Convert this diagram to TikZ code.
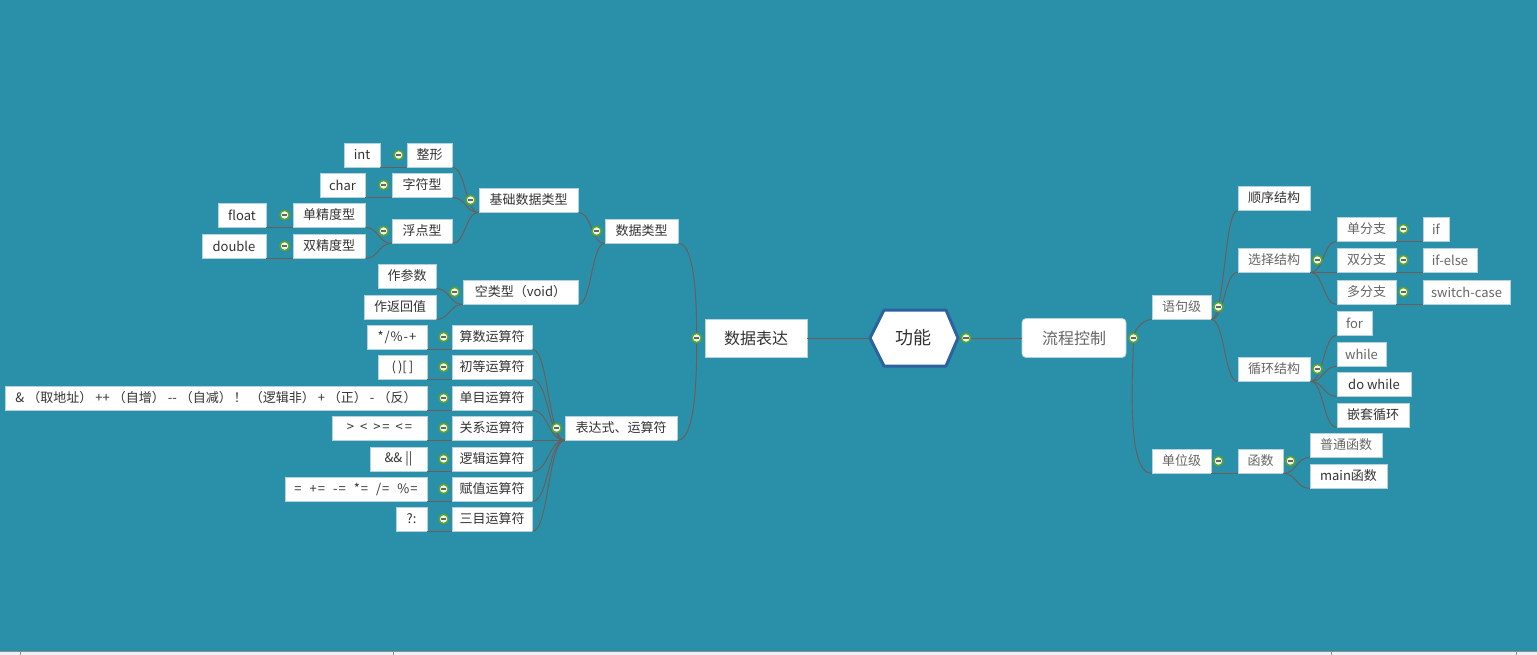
\documentclass[tikz,border=0pt]{standalone}
\usepackage{fontspec}
\setmainfont{Noto Sans CJK SC}
\usetikzlibrary{shadows,calc}
\definecolor{bg}{HTML}{2A8FA8}
\definecolor{lnc}{HTML}{6F5B58}
\definecolor{boxb}{HTML}{B5D3DE}
\definecolor{txt}{HTML}{333333}
\definecolor{ltxt}{HTML}{666666}
\definecolor{hexb}{HTML}{2C62A0}
\definecolor{togg}{HTML}{5BA52A}
\definecolor{togf}{HTML}{F2F4EA}
\newcommand\gp[1]{\hspace{#1pt}}
\tikzset{
 nb/.style={draw=boxb, fill=white, line width=0.8pt, inner sep=0pt, minimum height=24pt,
   font=\fontsize{13}{15}\selectfont, text=txt},
 box/.style={nb, drop shadow={shadow xshift=1.2pt, shadow yshift=-1.2pt, opacity=0.25}},
 lt/.style={text=ltxt},
 big/.style={minimum height=38pt, font=\fontsize{16}{19}\selectfont},
 conn/.style={draw=lnc, line width=0.9pt},
 scurve/.style={to path={let \p1=(\tikztostart), \p2=(\tikztotarget),
   \p3=($(\tikztostart)!0.5!(\tikztotarget)$) in
   .. controls (\x3,\y1) and (\x3,\y2) .. (\tikztotarget)}},
 tog/.pic={\draw[draw=togg, fill=togf, line width=1.5pt] (0,0) circle (4.6pt);
   \draw[black!60, line width=1.3pt] (-2.8,0)--(2.8,0);},
}
\begin{document}
\begin{tikzpicture}[x=1pt,y=-1pt]
\useasboundingbox (0,0) rectangle (1537,655);
\fill[bg] (0,0) rectangle (1537,655);
% bottom strip
\fill[black!6] (0,651.5) rectangle (1537,655);
\draw[black!45, line width=0.5pt] (0,651.5) -- (1537,651.5);
\foreach \xx in {20.6,393,1331,1516} \draw[black!45, line width=0.5pt] (\xx,651.5) -- (\xx,655);

% ---------- left: data types ----------
\node[box,minimum width=36] (int) at (362,155) {int};
\node[box,minimum width=45] (zx) at (429.5,155) {整形};
\node[box,minimum width=45] (char) at (342.5,185) {char};
\node[box,minimum width=60] (zfx) at (422,185) {字符型};
\node[box,minimum width=99] (jc) at (528.5,200) {基础数据类型};
\node[box,minimum width=48] (float) at (242,215) {float};
\node[box,minimum width=72] (dj1) at (329,215) {单精度型};
\node[box,minimum width=60] (fd) at (422,231) {浮点型};
\node[box,minimum width=64] (double) at (234,246) {double};
\node[box,minimum width=72] (sj) at (329,246) {双精度型};
\node[box,minimum width=73] (sjlx) at (641.5,231) {数据类型};
\node[box,minimum width=58] (zcs) at (407,276) {作参数};
\node[box,minimum width=72] (zfh) at (400,307) {作返回值};
\node[box,minimum width=115] (klx) at (520.5,292) {空类型（void）};
\node[box,big,minimum width=102] (sjbd) at (756,338) {数据表达};

% ---------- left: operators ----------
\node[box,minimum width=60] (v1) at (397,337) {*\gp1/\gp1\%\gp1-\gp1+};
\node[box,minimum width=49] (v2) at (402.5,367) {(\gp2)[\gp2]};
\node[box,minimum width=422] (v3) at (216,398) {\&\gp3（取地址）\gp3++\gp3（自增）\gp3-{}-\gp3（自减）\gp2！\gp3（逻辑非）\gp3+\gp3（正）\gp3-\gp3（反）};
\node[box,minimum width=95] (v4) at (379.5,428) {>\gp6<\gp6>\gp2=\gp6<\gp2=};
\node[box,minimum width=57] (v5) at (398.5,459) {\&\&\gp3||};
\node[box,minimum width=142] (v6) at (356,489) {=\gp8+\gp1=\gp8-\gp1=\gp8*\gp1=\gp8/\gp1=\gp8\%\gp1=};
\node[box,minimum width=31] (v7) at (411.5,519) {?:};
\node[box,minimum width=80] (o1) at (492,337) {算数运算符};
\node[box,minimum width=80] (o2) at (492,367) {初等运算符};
\node[box,minimum width=80] (o3) at (492,398) {单目运算符};
\node[box,minimum width=80] (o4) at (492,428) {关系运算符};
\node[box,minimum width=80] (o5) at (492,459) {逻辑运算符};
\node[box,minimum width=80] (o6) at (492,489) {赋值运算符};
\node[box,minimum width=80] (o7) at (492,519) {三目运算符};
\node[box,minimum width=112] (bds) at (621,428) {表达式、运算符};

% ---------- centre ----------
\draw[hexb, line width=3pt, fill=white, line join=round]
  (870,338) -- (884,310) -- (946,310) -- (958,338) -- (946,366) -- (884,366) -- cycle;
\coordinate (hl) at (870,338);
\coordinate (hr) at (958,338);
\node[text=txt, font=\fontsize{18}{21}\selectfont] (gn) at (913,338) {功能};
\node[nb,big,lt,minimum width=104,minimum height=39,rounded corners=4pt] (lckz) at (1074,338) {流程控制};

% ---------- right ----------
\node[box,lt,minimum width=59] (yjj) at (1181.5,307) {语句级};
\node[box,minimum width=72] (sx) at (1274,198) {顺序结构};
\node[box,lt,minimum width=72] (xz) at (1274,260) {选择结构};
\node[box,lt,minimum width=72] (xh) at (1274,369) {循环结构};
\node[box,lt,minimum width=59] (dfz) at (1366.5,229) {单分支};
\node[box,lt,minimum width=26] (if) at (1436,229) {if};
\node[box,lt,minimum width=59] (sfz) at (1366.5,260) {双分支};
\node[box,lt,minimum width=54] (ifelse) at (1450,260) {if-else};
\node[box,lt,minimum width=59] (dfz2) at (1366.5,292) {多分支};
\node[box,lt,minimum width=87] (sw) at (1466.5,292) {switch-case};
\node[box,lt,minimum width=35] (for) at (1354.5,323) {for};
\node[box,lt,minimum width=49] (while) at (1361.5,354) {while};
\node[box,minimum width=74] (dow) at (1374,384) {do while};
\node[box,minimum width=72] (qt) at (1373,415) {嵌套循环};
\node[box,lt,minimum width=59] (dwj) at (1181.5,461) {单位级};
\node[box,lt,minimum width=45] (hs) at (1260.5,461) {函数};
\node[box,lt,minimum width=72] (pt) at (1346,445) {普通函数};
\node[box,minimum width=77] (mainf) at (1348.5,476) {main函数};

\coordinate (dj) at ([xshift=-8pt]sjbd.west);
\coordinate (rj) at ([xshift=7pt]lckz.east);

% ---------- connectors ----------
\draw[conn] (zx.south west) -- (int.south east);
\draw[conn] (zfx.south west) -- (char.south east);
\draw[conn] (dj1.south west) -- (float.south east);
\draw[conn] (sj.south west) -- (double.south east);
\draw[conn] (jc.south west) to[scurve] (zx.south east);
\draw[conn] (jc.south west) to[scurve] (zfx.south east);
\draw[conn] (jc.south west) to[scurve] (fd.south east);
\draw[conn] (fd.south west) to[scurve] (dj1.south east);
\draw[conn] (fd.south west) to[scurve] (sj.south east);
\draw[conn] (sjlx.south west) to[scurve] (jc.south east);
\draw[conn] (sjlx.south west) to[scurve] (klx.south east);
\draw[conn] (klx.south west) to[scurve] (zcs.south east);
\draw[conn] (klx.south west) to[scurve] (zfh.south east);
\foreach \i in {1,...,7} {
  \draw[conn] (o\i.south west) -- (v\i.south east);
  \draw[conn] (bds.south west) to[scurve] (o\i.south east);
}
\draw[conn] (dj) to[out=90,in=0,looseness=0.5] (sjlx.south east);
\draw[conn] (dj) to[out=-90,in=0,looseness=0.5] (bds.south east);
\draw[conn] (sjbd.east) -- (hl);
\draw[conn] (hr) -- (lckz.west);
\draw[conn] (rj) to[out=90,in=180,looseness=0.8] (yjj.south west);
\draw[conn] (rj) to[out=-90,in=180,looseness=0.5] (dwj.south west);
\draw[conn] (yjj.south east) to[scurve] (sx.south west);
\draw[conn] (yjj.south east) to[scurve] (xz.south west);
\draw[conn] (yjj.south east) to[scurve] (xh.south west);
\draw[conn] (xz.south east) to[scurve] (dfz.south west);
\draw[conn] (xz.south east) to[scurve] (sfz.south west);
\draw[conn] (xz.south east) to[scurve] (dfz2.south west);
\draw[conn] (dfz.south east) -- (if.south west);
\draw[conn] (sfz.south east) -- (ifelse.south west);
\draw[conn] (dfz2.south east) -- (sw.south west);
\draw[conn] (xh.south east) to[scurve] (for.south west);
\draw[conn] (xh.south east) to[scurve] (while.south west);
\draw[conn] (xh.south east) to[scurve] (dow.south west);
\draw[conn] (xh.south east) to[scurve] (qt.south west);
\draw[conn] (dwj.south east) -- (hs.south west);
\draw[conn] (hs.south east) to[scurve] (pt.south west);
\draw[conn] (hs.south east) to[scurve] (mainf.south west);

% ---------- toggles ----------
\foreach \n in {zx,zfx,jc,dj1,fd,sj,sjlx,klx,o1,o2,o3,o4,o5,o6,o7,bds}
  \pic at ([xshift=-8pt]\n.west) {tog};
\pic at (dj) {tog};
\pic at ([xshift=8pt]hr) {tog};
\foreach \n in {lckz,yjj,xz,dfz,sfz,dfz2,xh,dwj,hs}
  \pic at ([xshift=7pt]\n.east) {tog};
\end{tikzpicture}
\end{document}
